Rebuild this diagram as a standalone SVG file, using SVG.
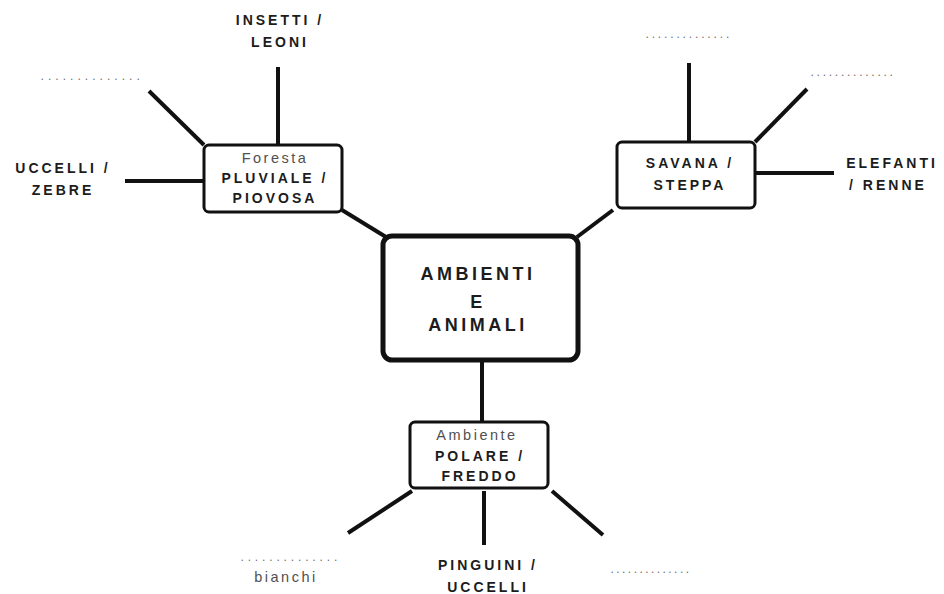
<svg xmlns="http://www.w3.org/2000/svg" width="944" height="594" viewBox="0 0 944 594">
  <style>
    .bg { fill: #ffffff; }
    .box { fill: #ffffff; stroke: #111111; stroke-width: 3; }
    .hub { fill: #ffffff; stroke: #111111; stroke-width: 5; }
    .link { stroke: #111111; stroke-width: 4; fill: none; stroke-linecap: butt; }
    .t { font-family: "Liberation Sans", Arial, sans-serif; text-anchor: middle; }
    .b { font-weight: bold; fill: #1c1c1c; font-size: 14px; letter-spacing: 3px; }
    .hb { font-weight: bold; fill: #1c1c1c; font-size: 18px; letter-spacing: 3.5px; }
    .r { fill: #505050; font-size: 14.5px; letter-spacing: 2.5px; }
    .dots { font-family: "Liberation Sans", Arial, sans-serif; fill: #6e6e6e; font-size: 12px; }
  </style>
  <rect class="bg" x="0" y="0" width="944" height="594"/>

  <g id="connectors">
    <!-- hub to branches -->
    <line class="link" x1="342" y1="210" x2="386" y2="237"/>
    <line class="link" x1="613" y1="210" x2="577" y2="237"/>
    <line class="link" x1="482" y1="362" x2="482" y2="422"/>
    <!-- Foresta branches -->
    <line class="link" x1="278" y1="67" x2="278" y2="145"/>
    <line class="link" x1="149" y1="91" x2="204" y2="145"/>
    <line class="link" x1="125" y1="181" x2="204" y2="181"/>
    <!-- Savana branches -->
    <line class="link" x1="689" y1="63" x2="689" y2="142"/>
    <line class="link" x1="755" y1="142" x2="807" y2="89"/>
    <line class="link" x1="755" y1="173" x2="834" y2="173"/>
    <!-- Polare branches -->
    <line class="link" x1="412" y1="491" x2="348" y2="533"/>
    <line class="link" x1="484" y1="491" x2="484" y2="545"/>
    <line class="link" x1="552" y1="491" x2="603" y2="535"/>
  </g>

  <g id="hub">
    <rect class="hub" x="383" y="236" width="195" height="124" rx="9"/>
    <text class="t hb" x="478" y="280">AMBIENTI</text>
    <text class="t hb" x="478" y="308">E</text>
    <text class="t hb" x="478" y="331">ANIMALI</text>
  </g>

  <g id="foresta">
    <rect class="box" x="204" y="145" width="138" height="67" rx="5"/>
    <text class="t r" x="275" y="163">Foresta</text>
    <text class="t b" x="275" y="183">PLUVIALE /</text>
    <text class="t b" x="275" y="203">PIOVOSA</text>
  </g>

  <g id="savana">
    <rect class="box" x="617" y="142" width="138" height="66" rx="5"/>
    <text class="t b" x="690" y="168">SAVANA /</text>
    <text class="t b" x="690" y="190">STEPPA</text>
  </g>

  <g id="polare">
    <rect class="box" x="410" y="422" width="138" height="66" rx="5"/>
    <text class="t r" x="477" y="440">Ambiente</text>
    <text class="t b" x="480" y="461">POLARE /</text>
    <text class="t b" x="480" y="481">FREDDO</text>
  </g>

  <g id="insetti">
    <text class="t b" x="280" y="25">INSETTI /</text>
    <text class="t b" x="280" y="47">LEONI</text>
  </g>

  <g id="foresta-blank">
    <text class="dots" x="40.5" y="80" letter-spacing="4.05">..............</text>
  </g>

  <g id="uccelli-zebre">
    <text class="t b" x="63" y="173">UCCELLI /</text>
    <text class="t b" x="63" y="195">ZEBRE</text>
  </g>

  <g id="savana-blank-top">
    <text class="dots" x="645.5" y="38" letter-spacing="2.85">..............</text>
  </g>

  <g id="savana-blank-right">
    <text class="dots" x="810.5" y="76" letter-spacing="2.75">..............</text>
  </g>

  <g id="elefanti-renne">
    <text class="t b" x="892" y="168">ELEFANTI</text>
    <text class="t b" x="888" y="190">/ RENNE</text>
  </g>

  <g id="bianchi">
    <text class="dots" x="240.5" y="561" letter-spacing="3.85">..............</text>
    <text class="t r" x="286" y="582">bianchi</text>
  </g>

  <g id="pinguini-uccelli">
    <text class="t b" x="488" y="570">PINGUINI /</text>
    <text class="t b" x="488" y="592">UCCELLI</text>
  </g>

  <g id="polare-blank">
    <text class="dots" x="610.5" y="573" letter-spacing="2.45">..............</text>
  </g>
</svg>
